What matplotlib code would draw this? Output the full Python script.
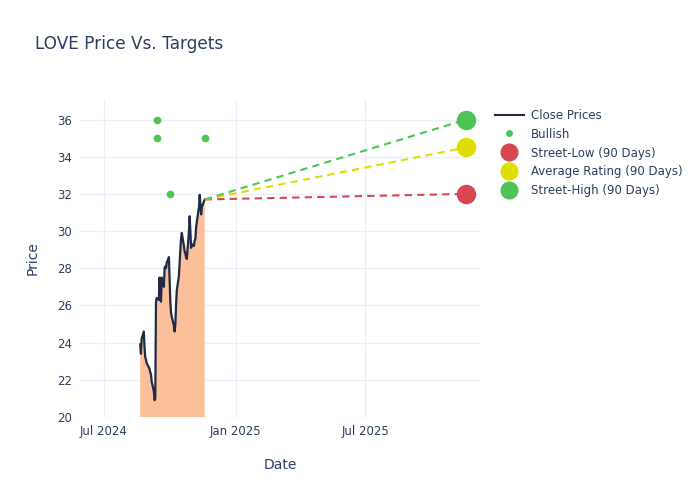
import matplotlib
matplotlib.use("Agg")
import matplotlib.pyplot as plt
import matplotlib.dates as mdates
from matplotlib.lines import Line2D
import pandas as pd

# ---- data ----
price_dates = [
    "2024-08-21", "2024-08-22", "2024-08-23", "2024-08-26", "2024-08-27", "2024-08-28",
    "2024-08-29", "2024-08-30", "2024-09-03", "2024-09-04", "2024-09-05", "2024-09-06",
    "2024-09-09", "2024-09-10", "2024-09-11", "2024-09-12", "2024-09-13", "2024-09-16",
    "2024-09-17", "2024-09-18", "2024-09-19", "2024-09-20", "2024-09-23", "2024-09-24",
    "2024-09-25", "2024-09-26", "2024-09-27", "2024-09-30", "2024-10-01", "2024-10-02",
    "2024-10-03", "2024-10-04", "2024-10-07", "2024-10-08", "2024-10-09", "2024-10-10",
    "2024-10-11", "2024-10-14", "2024-10-15", "2024-10-16", "2024-10-17", "2024-10-18",
    "2024-10-21", "2024-10-22", "2024-10-23", "2024-10-24", "2024-10-25", "2024-10-28",
    "2024-10-29", "2024-10-30", "2024-10-31", "2024-11-01", "2024-11-04", "2024-11-05",
    "2024-11-06", "2024-11-07", "2024-11-08", "2024-11-11", "2024-11-12", "2024-11-13",
    "2024-11-14", "2024-11-15", "2024-11-18", "2024-11-19",
]
close_prices = [
    23.9, 23.4, 24.2, 24.6, 23.8, 23.2,
    23.1, 22.9, 22.6, 22.4, 22.3, 21.9,
    21.4, 20.9, 21.0, 26.2, 26.4, 26.3,
    27.5, 26.6, 26.2, 27.5, 27.0, 28.0,
    28.1, 28.0, 28.3, 28.6, 27.4, 26.2,
    25.6, 25.4, 24.9, 24.6, 25.0, 26.0,
    26.8, 27.6, 28.3, 29.0, 29.6, 29.9,
    29.2, 28.9, 28.8, 28.6, 28.5, 30.0,
    30.8, 30.0, 29.1, 29.3, 29.2, 29.5,
    29.6, 30.2, 30.5, 31.3, 31.95, 31.4,
    30.9, 31.3, 31.6, 31.7,
]

bullish_dates = ["2024-09-13", "2024-09-13", "2024-10-02", "2024-11-19"]
bullish_targets = [36, 35, 32, 35]

target_start_date = "2024-11-19"
target_end_date = "2025-11-19"
target_labels = ["Street-Low (90 Days)", "Average Rating (90 Days)", "Street-High (90 Days)"]
target_values = [32.0, 34.5, 36.0]
target_colors = ["#d6474f", "#dede00", "#4fc456"]

# ---- figure ----
text_color = "#2a3f5f"
grid_color = "#ebf0f8"

fig = plt.figure(figsize=(7, 5), dpi=100)
ax = fig.add_axes([80 / 700, 1 - 417 / 500, 400 / 700, 317 / 500])

pd_dates = pd.to_datetime(price_dates)
ax.fill_between(pd_dates, close_prices, 0, color="#fbbf99", linewidth=0, zorder=2)
ax.plot(pd_dates, close_prices, color="#1f2a44", linewidth=1.6, zorder=3)

ax.plot(pd.to_datetime(bullish_dates), bullish_targets, "o", color="#4fc456",
        markersize=4.5, linestyle="none", zorder=4)

start = pd.to_datetime(target_start_date)
end = pd.to_datetime(target_end_date)
for val, col in zip(target_values, target_colors):
    ax.plot([start, end], [close_prices[-1], val], color=col, linewidth=1.5,
            linestyle=(0, (3.5, 2.5)), zorder=3)
    ax.plot([end], [val], "o", color=col, markersize=13, zorder=5)

ax.set_xlim(pd.Timestamp("2024-05-29"), pd.Timestamp("2025-12-08"))
ax.set_ylim(20, 37.05)
ax.set_yticks(range(20, 37, 2))
ax.set_xticks(pd.to_datetime(["2024-07-01", "2025-01-01", "2025-07-01"]))
ax.xaxis.set_major_formatter(mdates.DateFormatter("%b %Y"))

for s in ax.spines.values():
    s.set_visible(False)
ax.grid(True, color=grid_color, linewidth=1)
ax.set_axisbelow(True)
ax.tick_params(colors=text_color, labelsize=8.5, length=0, pad=6)

ax.set_xlabel("Date", color=text_color, fontsize=10, labelpad=14)
ax.set_ylabel("Price", color=text_color, fontsize=10, labelpad=12)

fig.text(35 / 700, 1 - 44 / 500, "LOVE Price Vs. Targets", color=text_color,
         fontsize=12.2, va="center", ha="left")

handles = [
    Line2D([], [], color="#1f2a44", linewidth=1.5),
    Line2D([], [], color="#4fc456", marker="o", markersize=4, linestyle="none"),
] + [Line2D([], [], color=c, marker="o", markersize=12, linestyle="none") for c in target_colors]
labels = ["Close Prices", "Bullish"] + target_labels
leg = fig.legend(handles, labels, loc="upper left", bbox_to_anchor=(490 / 700, 1 - 104 / 500),
                 frameon=False, fontsize=8.5, labelspacing=0.5, handlelength=2.5,
                 handletextpad=0.55, borderaxespad=0)
for t in leg.get_texts():
    t.set_color(text_color)

fig.savefig("out.png", dpi=100, facecolor="white")
